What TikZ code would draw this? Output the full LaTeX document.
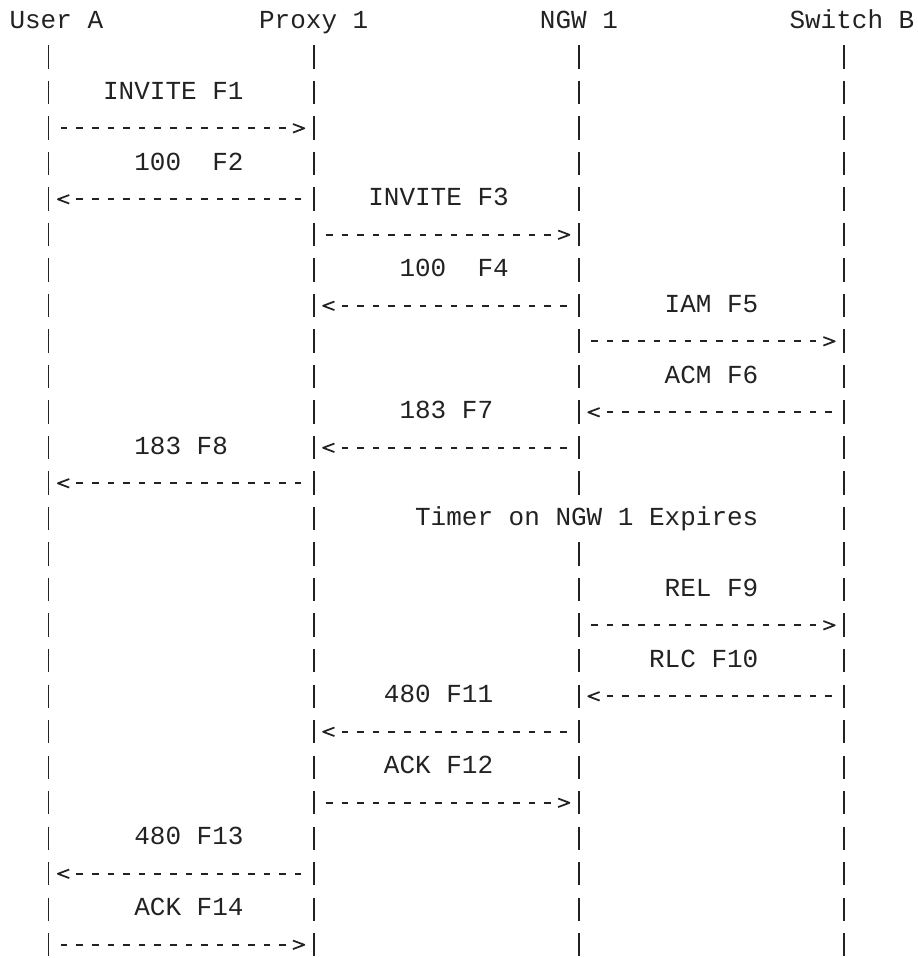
\documentclass[tikz,border=0pt]{standalone}
\usepackage{fontspec}
\setmonofont{Liberation Mono}
\usetikzlibrary{arrows.meta}

\definecolor{ink}{HTML}{222222}

% open chevron, the dashes stop one cell before it
\pgfdeclarearrow{
  name = chev,
  parameters = {chev},
  setup code = {
    \pgfarrowssettipend{0pt}
    \pgfarrowssetlineend{-13.85pt}
    \pgfarrowssetbackend{-8.5pt}
    \pgfarrowssetvisualbackend{-8.5pt}
  },
  drawing code = {
    \pgfsetdash{}{0pt}
    \pgfsetlinewidth{1.3pt}
    \pgfsetroundjoin
    \pgfpathmoveto{\pgfqpoint{-8.5pt}{3.2pt}}
    \pgfpathlineto{\pgfqpoint{0pt}{0pt}}
    \pgfpathlineto{\pgfqpoint{-8.5pt}{-3.2pt}}
    \pgfusepathqstroke
  },
}

\tikzset{
  lbl/.style={ink, font=\ttfamily\fontsize{19.5pt}{23pt}\selectfont, anchor=base west, inner sep=0pt, outer sep=0pt},
  life/.style={ink, line width=1.4pt, dash pattern=on 17.475pt off 9.15pt},
  msg/.style={ink, line width=1.4pt, dash pattern=on 5pt off 6.7pt, shorten <=9.2pt, shorten >=7.05pt, -{chev}},
}

\begin{document}
\begin{tikzpicture}[x=11.7pt,y=26.625pt,yscale=-1]
\useasboundingbox (-0.609,-0.797) rectangle (58.237,26.189);

% Heads
\node[lbl] (ua) at (0,0) {User A};
\node[lbl] (px) at (16,0) {Proxy 1};
\node[lbl] (ngw) at (34,0) {NGW 1};
\node[lbl] (sw) at (50,0) {Switch B};

% points on the lifelines, one for each line of the chart
\foreach \p/\c in {ua/2.5, px/19.5, ngw/36.5, sw/53.5}{
  \coordinate (\p-top) at (\c,0.4845);
  \coordinate (\p-bot) at (\c,26.141);
  \foreach \r in {1,...,26}
    \coordinate (\p-\r) at (\c,\r-0.183);
}
\coordinate (ngw-cut) at (36.5,13.141);
\coordinate (ngw-on) at (36.5,14.4845);

% Lifelines
\draw[life] (ua-top) -- (ua-bot);
\draw[life] (px-top) -- (px-bot);
\draw[life] (ngw-top) -- (ngw-cut);
\draw[life] (ngw-on) -- (ngw-bot);
\draw[life] (sw-top) -- (sw-bot);

% Messages
\draw[msg] (ua-3) -- (px-3);
\draw[msg] (px-5) -- (ua-5);
\draw[msg] (px-6) -- (ngw-6);
\draw[msg] (ngw-8) -- (px-8);
\draw[msg] (ngw-9) -- (sw-9);
\draw[msg] (sw-11) -- (ngw-11);
\draw[msg] (ngw-12) -- (px-12);
\draw[msg] (px-13) -- (ua-13);
\draw[msg] (ngw-17) -- (sw-17);
\draw[msg] (sw-19) -- (ngw-19);
\draw[msg] (ngw-20) -- (px-20);
\draw[msg] (px-22) -- (ngw-22);
\draw[msg] (px-24) -- (ua-24);
\draw[msg] (ua-26) -- (px-26);

% Text Node
\node[lbl] (f1) at (6,2) {INVITE F1};
\node[lbl] (f2) at (8,4) {100~~F2};
\node[lbl] (f3) at (23,5) {INVITE F3};
\node[lbl] (f4) at (25,7) {100~~F4};
\node[lbl] (f5) at (42,8) {IAM F5};
\node[lbl] (f6) at (42,10) {ACM F6};
\node[lbl] (f7) at (25,11) {183 F7};
\node[lbl] (f8) at (8,12) {183 F8};
% Text Node
\node[lbl] (timer) at (26,14) {Timer on NGW 1 Expires};
% Text Node
\node[lbl] (f9) at (42,16) {REL F9};
\node[lbl] (f10) at (41,18) {RLC F10};
\node[lbl] (f11) at (24,19) {480 F11};
\node[lbl] (f12) at (24,21) {ACK F12};
\node[lbl] (f13) at (8,23) {480 F13};
\node[lbl] (f14) at (8,25) {ACK F14};

\end{tikzpicture}
\end{document}
